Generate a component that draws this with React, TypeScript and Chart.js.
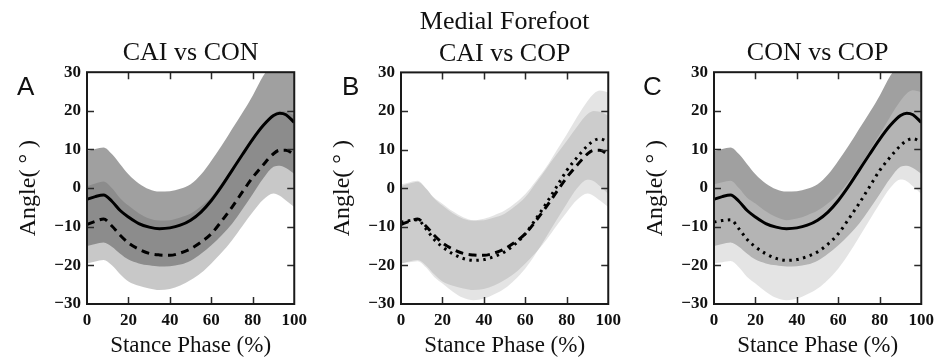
import React, { useEffect, useRef } from "react";
import { Chart, registerables } from "chart.js";

Chart.register(...registerables);

// Stance phase (%) sample positions
const STANCE = [0, 4, 8, 12, 16, 20, 25, 30, 35, 40, 45, 50, 55, 60, 65, 70, 75, 80, 85, 90, 93, 96, 100];

// CON group (solid line) mean and ±SD band
const CON_MEAN = [-2.9, -2.2, -1.8, -3.4, -5.8, -7.5, -9.2, -10.1, -10.5, -10.3, -9.6, -8.3, -6.2, -3.2, 0.5, 4.6, 8.7, 12.7, 16.2, 18.8, 19.4, 19.0, 17.0];
const CON_UP = [9.6, 10.1, 10.5, 8.8, 6.2, 3.6, 1.2, -0.3, -0.9, -0.8, -0.2, 1.0, 3.5, 7.1, 11.0, 15.3, 19.5, 24.0, 29.0, 32.5, 34.0, 35.0, 35.5];
const CON_LO = [-15.0, -14.5, -14.1, -15.2, -17.0, -18.5, -19.5, -20.0, -20.3, -20.2, -19.8, -18.8, -17.0, -14.8, -12.2, -9.2, -5.5, -1.5, 2.5, 5.5, 5.8, 5.2, 3.7];

// CAI group (dashed line)
const CAI_MEAN = [-9.4, -8.6, -8.0, -9.8, -12.2, -14.2, -15.8, -16.9, -17.3, -17.4, -16.8, -15.7, -14.0, -11.8, -8.5, -4.9, -1.0, 2.8, 6.0, 8.9, 9.8, 9.8, 8.7];
const CAI_UP = [0.5, 1.2, 1.7, 0.0, -2.6, -4.5, -6.5, -7.9, -8.4, -8.3, -7.6, -6.6, -4.7, -2.3, 1.3, 5.0, 8.7, 12.3, 16.0, 19.2, 20.0, 19.8, 18.8];
const CAI_LO = [-19.5, -19.0, -18.6, -20.0, -22.3, -24.2, -25.3, -26.0, -26.4, -26.1, -25.2, -23.8, -22.0, -19.5, -16.7, -13.5, -9.8, -6.2, -3.0, -1.4, -2.0, -3.2, -4.9];

// COP group (dotted line)
const COP_MEAN = [-8.8, -8.4, -8.2, -10.5, -13.3, -15.2, -17.0, -18.2, -18.7, -18.5, -17.7, -16.5, -14.5, -11.8, -8.0, -4.0, 0.3, 4.6, 8.0, 11.0, 12.3, 12.8, 11.9];
const COP_UP = [1.0, 1.5, 1.9, 0.0, -2.5, -4.0, -6.0, -7.5, -8.3, -7.9, -7.0, -5.8, -3.9, -1.5, 1.8, 5.4, 9.7, 14.0, 18.5, 22.6, 24.5, 25.3, 24.8];
const COP_LO = [-19.5, -19.2, -18.9, -20.5, -23.0, -24.7, -26.8, -28.4, -29.0, -28.6, -27.5, -26.0, -23.7, -20.8, -17.0, -12.7, -8.3, -4.0, 0.0, 2.2, 1.8, 0.5, -1.5];

const X_MIN = 0, X_MAX = 100, X_STEP = 20;
const Y_MIN = -30, Y_MAX = 30, Y_STEP = 10;

const X_TITLE = "Stance Phase (%)";
const Y_TITLE = "Angle( ° )";

const SERIF = "'Liberation Serif', 'Times New Roman', serif";

type Group = { mean: number[]; up: number[]; lo: number[]; dash: number[] };
const CON: Group = { mean: CON_MEAN, up: CON_UP, lo: CON_LO, dash: [] };
const CAI: Group = { mean: CAI_MEAN, up: CAI_UP, lo: CAI_LO, dash: [8, 5.5] };
const COP: Group = { mean: COP_MEAN, up: COP_UP, lo: COP_LO, dash: [2.5, 4.5] };

const pts = (ys: number[]) => STANCE.map((x, i) => ({ x, y: ys[i] }));

const framePlugin = {
  id: "frame",
  afterDatasetsDraw(chart: any) {
    const { ctx, chartArea: a, scales } = chart;
    const len = 7;
    ctx.save();
    ctx.strokeStyle = "#2a2a2a";
    ctx.lineWidth = 1.5;
    const xs = scales.x, ys = scales.y;
    xs.ticks.forEach((t: any) => {
      if (t.value <= xs.min || t.value >= xs.max) return;
      const p = Math.round(xs.getPixelForValue(t.value)) + 0.5;
      ctx.beginPath();
      ctx.moveTo(p, a.top);
      ctx.lineTo(p, a.top + len);
      ctx.moveTo(p, a.bottom);
      ctx.lineTo(p, a.bottom - len);
      ctx.stroke();
    });
    ys.ticks.forEach((t: any) => {
      if (t.value <= ys.min || t.value >= ys.max) return;
      const p = Math.round(ys.getPixelForValue(t.value)) + 0.5;
      ctx.beginPath();
      ctx.moveTo(a.left, p);
      ctx.lineTo(a.left + len, p);
      ctx.moveTo(a.right, p);
      ctx.lineTo(a.right - len, p);
      ctx.stroke();
    });
    ctx.strokeStyle = "#1a1a1a";
    ctx.lineWidth = 2;
    ctx.strokeRect(a.left, a.top, a.right - a.left, a.bottom - a.top);
    ctx.restore();
  },
};

type PanelProps = {
  left: number;
  title: string | string[];
  topPad: number;
  lines: Group[];
  topBand: Group;
  topColor: string;
  bottomBand: Group;
  bottomColor: string;
};

function Panel(p: PanelProps) {
  const ref = useRef<HTMLCanvasElement>(null);
  useEffect(() => {
    const bandDs = (g: Group, color: string) => [
      {
        data: pts(g.up),
        borderWidth: 0,
        borderColor: "rgba(0,0,0,0)",
        backgroundColor: color,
        pointRadius: 0,
        fill: "+1",
        cubicInterpolationMode: "monotone",
      },
      {
        data: pts(g.lo),
        borderWidth: 0,
        borderColor: "rgba(0,0,0,0)",
        pointRadius: 0,
        fill: false,
        cubicInterpolationMode: "monotone",
      },
    ];
    const lineDs = (g: Group) => ({
      data: pts(g.mean),
      borderColor: "#000",
      borderWidth: 3,
      borderDash: g.dash,
      pointRadius: 0,
      fill: false,
      cubicInterpolationMode: "monotone",
    });
    const tickFmt = (v: any) => (v < 0 ? "\u2212" + Math.abs(v) : String(v));
    const chart = new Chart(ref.current as HTMLCanvasElement, {
      type: "line",
      data: {
        datasets: [
          ...p.lines.map(lineDs),
          ...bandDs(p.topBand, p.topColor),
          ...bandDs(p.bottomBand, p.bottomColor),
        ] as any,
      },
      options: {
        animation: false,
        responsive: false,
        maintainAspectRatio: false,
        layout: { padding: { left: 14, right: 15, top: p.topPad, bottom: 0 } },
        plugins: {
          legend: { display: false },
          tooltip: { enabled: false },
          filler: { drawTime: "beforeDatasetsDraw" },
          title: {
            display: true,
            text: p.title,
            fullSize: false,
            color: "#111",
            font: { family: SERIF, size: 26, weight: "normal", lineHeight: 1.2 },
            padding: { top: 0, bottom: 3 },
          },
        },
        scales: {
          x: {
            type: "linear",
            min: X_MIN,
            max: X_MAX,
            grid: { display: false, drawTicks: false },
            border: { display: false },
            ticks: {
              stepSize: X_STEP,
              padding: 6,
              color: "#111",
              maxRotation: 0,
              font: { family: SERIF, size: 17, weight: "bold" },
              callback: tickFmt,
            },
            title: {
              display: true,
              text: X_TITLE,
              color: "#111",
              font: { family: SERIF, size: 23, lineHeight: 1.2 },
              padding: { top: 0, bottom: 2 },
            },
            afterFit: (s: any) => {
              s.height = 58;
            },
          },
          y: {
            type: "linear",
            min: Y_MIN,
            max: Y_MAX,
            grid: { display: false, drawTicks: false },
            border: { display: false },
            ticks: {
              stepSize: Y_STEP,
              padding: 6,
              color: "#111",
              font: { family: SERIF, size: 17, weight: "bold" },
              callback: tickFmt,
            },
            title: {
              display: true,
              text: Y_TITLE,
              color: "#111",
              font: { family: SERIF, size: 24, lineHeight: 1.2 },
              padding: { top: 0, bottom: 0 },
            },
            afterFit: (s: any) => {
              s.width = 73;
            },
          },
        },
      } as any,
      plugins: [framePlugin],
    });
    return () => chart.destroy();
  }, []);
  return (
    <div style={{ position: "absolute", left: p.left, top: 0, width: 313, height: 362 }}>
      <canvas ref={ref} width={313} height={362} style={{ display: "block" }} />
    </div>
  );
}

const letterStyle = (left: number): React.CSSProperties => ({
  position: "absolute",
  left,
  top: 73,
  fontFamily: "'Liberation Sans', Arial, sans-serif",
  fontSize: 26,
  lineHeight: "26px",
  color: "#111",
});

export default function App() {
  return (
    <div style={{ position: "absolute", left: 0, top: 0, width: 940, height: 362, background: "#fff", overflow: "hidden" }}>
      <Panel left={0} title="CAI vs CON" topPad={38} lines={[CON, CAI]} topBand={CON} topColor="rgba(106,106,106,0.636)" bottomBand={CAI} bottomColor="rgba(0,0,0,0.216)" />
      <Panel left={314} title={["Medial Forefoot", "CAI vs COP"]} topPad={7} lines={[CAI, COP]} topBand={COP} topColor="rgba(0,0,0,0.106)" bottomBand={CAI} bottomColor="rgba(0,0,0,0.106)" />
      <Panel left={627} title="CON vs COP" topPad={38} lines={[CON, COP]} topBand={COP} topColor="rgba(200,200,200,0.495)" bottomBand={CON} bottomColor="#a0a0a0" />
      <div style={letterStyle(17)}>A</div>
      <div style={letterStyle(342)}>B</div>
      <div style={letterStyle(643)}>C</div>
    </div>
  );
}
